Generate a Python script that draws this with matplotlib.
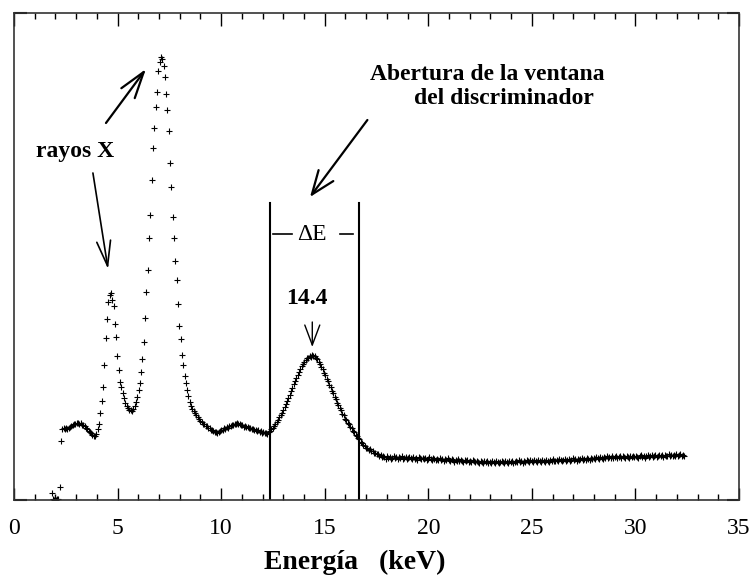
import matplotlib
matplotlib.use("Agg")
import matplotlib.pyplot as plt
import numpy as np

# MCA calibration (keV per channel) and first channel energy
e0 = 1.82
gain = 0.0635

# counts per channel (arbitrary units)
counts = [
    7, 1, 0.5, 0.5, 1.5, 1, 13, 59, 71, 72,
    71, 72.5, 71, 72.5, 73, 74, 75.5, 76, 76.5, 77.5,
    77, 76, 77.5, 75.5, 75, 74, 72.5, 71.5, 69.5, 68.5,
    67.5, 65.5, 64.5, 64, 66, 71, 76, 87, 99, 113,
    135, 162, 181, 198, 205, 207, 200, 194, 176, 163,
    144, 130, 118, 113, 107, 102, 97, 94, 92, 90.5,
    90, 89.5, 91, 94, 98, 103, 110, 117, 128, 141,
    158, 182, 208, 230, 262, 285, 320, 352, 372, 393,
    408, 429, 438, 443, 441, 434, 423, 406, 390, 369,
    337, 313, 283, 262, 239, 220, 196, 174, 161, 145,
    135, 124, 117, 110, 104, 98, 94, 91, 89, 87,
    85.5, 83, 81.5, 79, 78.5, 76.5, 76, 74.5, 74, 72,
    72, 70.5, 70, 69.5, 68, 68.5, 67.5, 68.5, 69, 70.5,
    70.5, 72, 71.5, 73.5, 72.5, 74.5, 74, 75.5, 75, 76.5,
    76.5, 77.5, 76, 76.5, 75, 75.5, 73.5, 74.5, 73, 73.5,
    72, 72.5, 71, 71.5, 70.5, 70.5, 69.5, 70, 68.5, 69,
    67.5, 68.5, 67, 67.5, 66.5, 68, 69.5, 71, 72.5, 74,
    76, 78.5, 80, 83, 85, 87.5, 90.5, 93, 96.5, 99,
    102.5, 105, 109, 112, 116.5, 119, 122.5, 125, 128.5, 131,
    134, 136, 138.5, 140, 142, 142.5, 144, 143.5, 145, 144.5,
    144.5, 142, 141, 138, 136.5, 133, 131.5, 127.5, 125.5, 121.5,
    119.5, 115.5, 113.5, 109, 107, 103.5, 101.5, 97.5, 95.5, 92,
    90, 86.5, 85, 81.5, 80.5, 77, 76, 73, 72, 69,
    68.5, 65.5, 64.5, 62, 61, 58, 57.5, 55, 54.5, 52.5,
    52.5, 50.5, 51, 49, 49, 47.5, 47.5, 46, 46.5, 44.5,
    45, 43.5, 44,
    43, 41.5, 44, 42.5, 43.5, 41, 42.5, 44, 42, 43,
    41.5, 43, 42, 44, 41, 42.5, 43.5, 41.5, 42, 43,
    42.5, 41, 43, 41.5, 42, 40.5, 43, 42, 41, 42.5,
    41, 42.5, 40.5, 41.5, 43, 41, 40.5, 42, 41.5, 40,
    41.5, 40, 42, 40.5, 41, 39.5, 41.5, 40, 42, 40.5,
    39.5, 41, 40, 38.5, 40.5, 39.5, 41, 39, 40, 39.5,
    38.5, 40, 39, 40.5, 38, 39.5, 38.5, 40, 39, 38,
    39.5, 38, 37.5, 39, 38.5, 37, 39, 38, 39.5, 37.5,
    38.5, 37, 39, 38, 37.5, 39, 38.5, 37, 38, 39.5,
    38, 37.5, 39, 38.5, 37, 39.5, 38, 39, 37.5, 38.5,
    39.5, 38, 40, 38.5, 39, 37.5, 39.5, 38.5, 40, 39,
    38.5, 40, 39, 38, 40.5, 39, 38.5, 40, 39.5, 38.5,
    40, 39, 38.5, 40.5, 39.5, 38.5, 40, 39, 41, 39.5,
    39, 40.5, 39.5, 41, 40, 39, 40.5, 41.5, 39.5, 40,
    41, 39.5, 40.5, 42, 40, 41, 39.5, 41.5, 40.5, 41,
    42, 40, 41.5, 40.5, 42.5, 41, 40.5, 42, 41.5, 42.5,
    41, 43, 42, 41.5, 43.5, 42, 41, 43, 42.5, 44,
    42, 43.5, 42.5, 44, 42, 43, 44.5, 42.5, 43, 44,
    42.5, 44, 43, 42.5, 44.5, 43.5, 42.5, 44, 43, 44.5,
    43, 44.5, 43, 42.5, 44, 45, 43.5, 44, 42.5, 44.5,
    45, 43.5, 44, 45.5, 43, 44.5, 45, 43.5, 44.5, 45.5,
    44, 45, 43.5, 45.5, 44.5, 44, 46, 44.5, 45, 44,
    45.5, 44, 46, 44.5, 45, 46, 44.5, 45.5, 44.5,
]

# discriminator window edges (keV)
window = [12.36, 16.66]
window_top = 297
peak_label = "14.4"

channel = np.arange(len(counts))
energy = e0 + gain * channel

plt.rcParams['font.family'] = ['Liberation Serif', 'DejaVu Serif']

fig = plt.figure(figsize=(7.56, 5.78), dpi=100)
ax = fig.add_axes([14/756, 78/578, 725/756, 487/578])

ax.plot(energy, counts, linestyle='none', marker='+', color='k',
        markersize=4, markeredgewidth=0.8)

ax.set_xlim(0, 35)
ax.set_ylim(0, 487)
ax.set_xticks(np.arange(0, 36, 5))
ax.set_xticks(np.arange(0, 36, 1), minor=True)
ax.set_yticks([0, 487])
ax.set_yticklabels([])
ax.tick_params(axis='x', which='major', direction='in', length=9, width=1,
               top=True, labelsize=17, pad=13)
ax.tick_params(axis='x', which='minor', direction='in', length=4.5, width=1,
               top=True)
ax.tick_params(axis='y', which='major', direction='in', length=9, width=1.5,
               right=True)
for s in ax.spines.values():
    s.set_linewidth(1.2)
    s.set_color('#333333')

ax.set_xlabel("Energía   (keV)", fontsize=20, fontweight='bold')
ax.xaxis.set_label_coords((355 - 14) / 725, -0.103)

# discriminator window
for xw in window:
    ax.plot([xw, xw], [0, window_top], color='k', lw=1.5)
ax.plot([12.49, 13.41], [266, 266], color='k', lw=1.2)
ax.plot([15.74, 16.38], [266, 266], color='k', lw=1.2)
ax.text(14.37, 265, "ΔE", fontsize=17, ha='center', va='center')

# labels
ax.text(2.94, 348, "rayos X", fontsize=17, fontweight='bold',
        ha='center', va='center')
ax.text(22.85, 425, "Abertura de la ventana", fontsize=17, fontweight='bold',
        ha='center', va='center')
ax.text(23.66, 401, "del discriminador", fontsize=17, fontweight='bold',
        ha='center', va='center')
ax.text(14.12, 201, peak_label, fontsize=17, fontweight='bold',
        ha='center', va='center')

# arrows
ax.annotate('', xy=(6.37, 431), xytext=(4.44, 377),
            arrowprops=dict(arrowstyle='->,head_length=0.95,head_width=0.3',
                            lw=1.6, color='k', mutation_scale=20,
                            shrinkA=0, shrinkB=0))
ax.annotate('', xy=(4.54, 231), xytext=(3.81, 327),
            arrowprops=dict(arrowstyle='->,head_length=0.9,head_width=0.25',
                            lw=1.2, color='k', mutation_scale=20,
                            shrinkA=0, shrinkB=0))
ax.annotate('', xy=(14.29, 303), xytext=(17.06, 380),
            arrowprops=dict(arrowstyle='->,head_length=0.85,head_width=0.33',
                            lw=1.6, color='k', mutation_scale=20,
                            shrinkA=0, shrinkB=0))
ax.annotate('', xy=(14.40, 153), xytext=(14.40, 178),
            arrowprops=dict(arrowstyle='->,head_length=0.72,head_width=0.27',
                            lw=1.0, color='k', mutation_scale=20,
                            shrinkA=0, shrinkB=0))

fig.savefig("out.png", dpi=100)
